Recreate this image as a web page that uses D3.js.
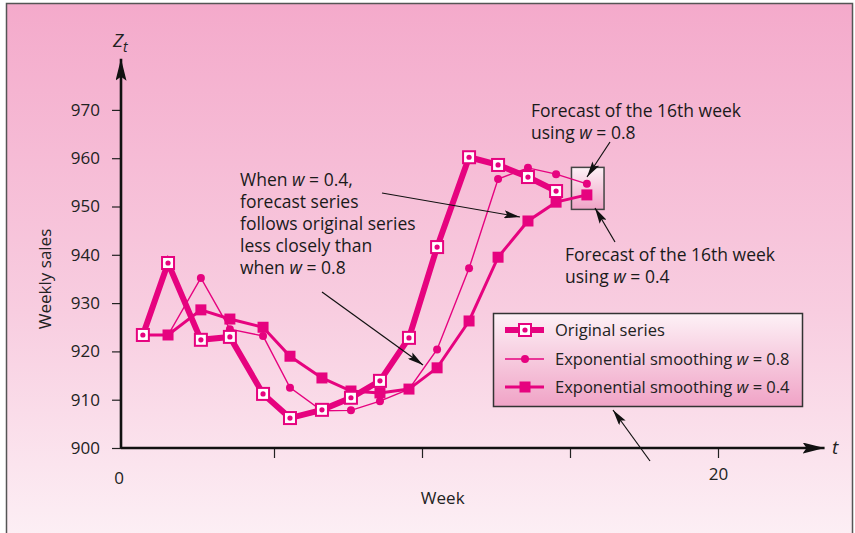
<!DOCTYPE html>
<html><head><meta charset="utf-8">
<script src="https://cdn.jsdelivr.net/npm/d3@7"></script>
<style>
body{margin:0;background:#fff}
svg{display:block;font-family:'Open Sans',sans-serif;}
</style>
</head><body>
<svg id="c" width="855" height="533"></svg>
<script>
// ---- data ----
const weekPos  = [0.57,1.42,2.53,3.51,4.63,5.54,6.62,7.6,8.58,9.56,10.51,11.59,12.57,13.58,14.53,15.57];
const original = [923.4,938.3,922.4,923.0,911.2,906.2,907.9,910.4,913.9,922.8,941.6,960.2,958.6,956.1,953.2];
const smooth08 = [923.4,923.4,935.2,924.6,923.2,912.5,907.7,907.8,909.7,912.2,920.4,937.2,955.7,958.0,956.7,954.7];
const smooth04 = [923.4,923.4,928.6,926.7,925.0,919.0,914.5,911.8,911.4,912.2,916.6,926.3,939.5,947.0,950.9,952.4];
const yTicks = [900,910,920,930,940,950,960,970];
const xTicks = [5,10,15,20];
const xLabels = ["0","20"];
const legendLabels = ["Original series","Exponential smoothing ","Exponential smoothing "];
const legendW = ["", "0.8", "0.4"];

const MAG = "#e6037f";
const svg = d3.select("#c");
const defs = svg.append("defs");

const bg = defs.append("linearGradient").attr("id","bg").attr("x1",0).attr("y1",0).attr("x2",0).attr("y2",1);
bg.append("stop").attr("offset","0%").attr("stop-color","#f4aacb");
bg.append("stop").attr("offset","55%").attr("stop-color","#f8cde0");
bg.append("stop").attr("offset","100%").attr("stop-color","#fdf3f7");

const lg = defs.append("linearGradient").attr("id","lg").attr("x1",0).attr("y1",0).attr("x2",0).attr("y2",1);
lg.append("stop").attr("offset","0%").attr("stop-color","#fdf1f6");
lg.append("stop").attr("offset","100%").attr("stop-color","#f0a3c6");

defs.append("marker").attr("id","arr").attr("markerUnits","userSpaceOnUse")
  .attr("viewBox","0 0 16 8").attr("refX",16).attr("refY",4)
  .attr("markerWidth",16).attr("markerHeight",8).attr("orient","auto")
  .append("path").attr("d","M0,0 L16,4 L0,8 L3,4 Z").attr("fill","#111");
defs.append("marker").attr("id","axarr").attr("markerUnits","userSpaceOnUse")
  .attr("viewBox","0 0 22 11").attr("refX",22).attr("refY",5.5)
  .attr("markerWidth",22).attr("markerHeight",11).attr("orient","auto")
  .append("path").attr("d","M0,0 L22,5.5 L0,11 L4,5.5 Z").attr("fill","#111");

svg.append("rect").attr("x",0).attr("y",0).attr("width",855).attr("height",533).attr("fill","#fff");
svg.append("rect").attr("x",6.5).attr("y",3.5).attr("width",846).attr("height",560)
  .attr("fill","url(#bg)").attr("stroke","#555").attr("stroke-width",1.5);

const x = d3.scaleLinear([0,20],[126,718]);
const y = d3.scaleLinear([900,970],[448,109.9]);
const x0 = x(0)-5;

// y axis
const ya = svg.append("g").attr("transform",`translate(${x0},0)`)
  .call(d3.axisLeft(y).tickValues(yTicks).tickSize(9).tickPadding(12).tickFormat(d3.format("d")));
ya.select(".domain").remove();
ya.selectAll("line").attr("stroke","#222").attr("stroke-width",1.2);
ya.selectAll("text").attr("font-size",17).attr("font-family","'Open Sans',sans-serif").attr("fill","#222");

// x axis
const xa = svg.append("g").attr("transform",`translate(0,${y(900)})`)
  .call(d3.axisBottom(x).tickValues(xTicks).tickSize(10).tickPadding(10).tickFormat(d=>d===20?xLabels[1]:""));
xa.select(".domain").remove();
xa.selectAll("line").attr("stroke","#222").attr("stroke-width",1.2);
xa.selectAll("text").attr("font-size",17).attr("font-family","'Open Sans',sans-serif").attr("fill","#222");
svg.append("text").attr("x",x0-2).attr("y",y(900)+36).attr("text-anchor","middle")
  .attr("font-size",17).attr("fill","#222").text(xLabels[0]);

// axis lines with arrows
svg.append("path").attr("d",`M${x0},${y(900)}H${x(23.6)}`).attr("stroke","#111").attr("stroke-width",2.6)
  .attr("fill","none").attr("marker-end","url(#axarr)");
svg.append("path").attr("d",`M${x0},${y(900)}V${y(980.6)}`).attr("stroke","#111").attr("stroke-width",2.6)
  .attr("fill","none").attr("marker-end","url(#axarr)");

// axis titles
svg.append("text").attr("x",x(23.85)).attr("y",y(900)+6).attr("font-size",19).attr("font-style","italic").attr("fill","#222").text("t");
const zt = svg.append("text").attr("x",x0-8).attr("y",y(983)).attr("font-size",19).attr("font-style","italic").attr("fill","#222");
zt.append("tspan").text("Z");
zt.append("tspan").attr("font-size",14).attr("dy",5).text("t");
svg.append("text").attr("transform",`translate(51,${y(935)}) rotate(-90)`).attr("text-anchor","middle")
  .attr("font-size",17).attr("fill","#222").text("Weekly sales");
svg.append("text").attr("x",x(10.7)).attr("y",y(900)+56).attr("text-anchor","middle")
  .attr("font-size",17).attr("fill","#222").text("Week");

// forecast box
svg.append("rect").attr("x",x(15.05)).attr("y",y(958.1)).attr("width",x(16.15)-x(15.05)).attr("height",y(949.4)-y(958.1))
  .attr("fill","url(#lg)").attr("stroke","#444").attr("stroke-width",1.5);

const line = d3.line().x((d,i)=>x(weekPos[i])).y(d=>y(d));

// w=0.8
svg.append("path").attr("d",line(smooth08)).attr("fill","none").attr("stroke",MAG).attr("stroke-width",1.4);
svg.selectAll(".c8").data(smooth08).join("circle").attr("cx",(d,i)=>x(weekPos[i])).attr("cy",d=>y(d)).attr("r",4).attr("fill",MAG);
// w=0.4
svg.append("path").attr("d",line(smooth04)).attr("fill","none").attr("stroke",MAG).attr("stroke-width",3);
svg.selectAll(".s4").data(smooth04).join("rect").attr("x",(d,i)=>x(weekPos[i])-5.5).attr("y",d=>y(d)-5.5)
  .attr("width",11).attr("height",11).attr("fill",MAG);
// original
svg.append("path").attr("d",line(original)).attr("fill","none").attr("stroke",MAG).attr("stroke-width",6).attr("stroke-linejoin","miter");
const og = svg.selectAll(".og").data(original).join("g").attr("transform",(d,i)=>`translate(${x(weekPos[i])},${y(d)})`);
og.append("rect").attr("x",-6).attr("y",-6).attr("width",12).attr("height",12).attr("fill","#fff").attr("stroke",MAG).attr("stroke-width",2);
og.append("circle").attr("r",2.6).attr("fill",MAG);

// legend
const L = svg.append("g");
L.append("rect").attr("x",493.5).attr("y",313.5).attr("width",309).attr("height",93)
  .attr("fill","url(#lg)").attr("stroke","#333").attr("stroke-width",1.5);
const rowsY = [330,359,387];
const sw = [6,1.4,3];
rowsY.forEach((ry,k)=>{
  L.append("line").attr("x1",505).attr("x2",544).attr("y1",ry).attr("y2",ry).attr("stroke",MAG).attr("stroke-width",sw[k]);
  if(k===0){
    L.append("rect").attr("x",519).attr("y",ry-6).attr("width",12).attr("height",12).attr("fill","#fff").attr("stroke",MAG).attr("stroke-width",2);
    L.append("circle").attr("cx",525).attr("cy",ry).attr("r",2.6).attr("fill",MAG);
  } else if(k===1){
    L.append("circle").attr("cx",525).attr("cy",ry).attr("r",4).attr("fill",MAG);
  } else {
    L.append("rect").attr("x",519.5).attr("y",ry-5.5).attr("width",11).attr("height",11).attr("fill",MAG);
  }
  const t = L.append("text").attr("x",555).attr("y",ry+6).attr("font-size",16.5).attr("fill","#222");
  t.append("tspan").text(legendLabels[k]);
  if(k>0){ t.append("tspan").attr("font-style","italic").text("w"); t.append("tspan").text(" = "+legendW[k]); }
});

// annotations
function ann(x0,y0,lines,size,lh){
  const t = svg.append("text").attr("font-size",size).attr("fill","#1a1a1a");
  lines.forEach((ln,i)=>{
    const row = t.append("tspan").attr("x",x0).attr("y",y0+i*lh);
    ln.forEach(seg=>{ const s=row.append("tspan").text(seg[0]); if(seg[1]) s.attr("font-style","italic"); });
  });
}
ann(240,186,[[["When "],["w",1],[" = 0.4,"]],[["forecast series"]],[["follows original series"]],[["less closely than"]],[["when "],["w",1],[" = 0.8"]]],17.5,22);
ann(531,117,[[["Forecast of the 16th week"]],[["using "],["w",1],[" = 0.8"]]],17.5,22);
ann(565,261,[[["Forecast of the 16th week"]],[["using "],["w",1],[" = 0.4"]]],17.5,22);

function arrow(a,b,c,d){ svg.append("line").attr("x1",a).attr("y1",b).attr("x2",c).attr("y2",d).attr("stroke","#111").attr("stroke-width",1.2).attr("marker-end","url(#arr)"); }
arrow(382,193,520,217);
arrow(322,292,423,365);
arrow(610,142,587,177);
arrow(615,242,595,208);
arrow(650,461,613,410);
</script>
</body></html>
